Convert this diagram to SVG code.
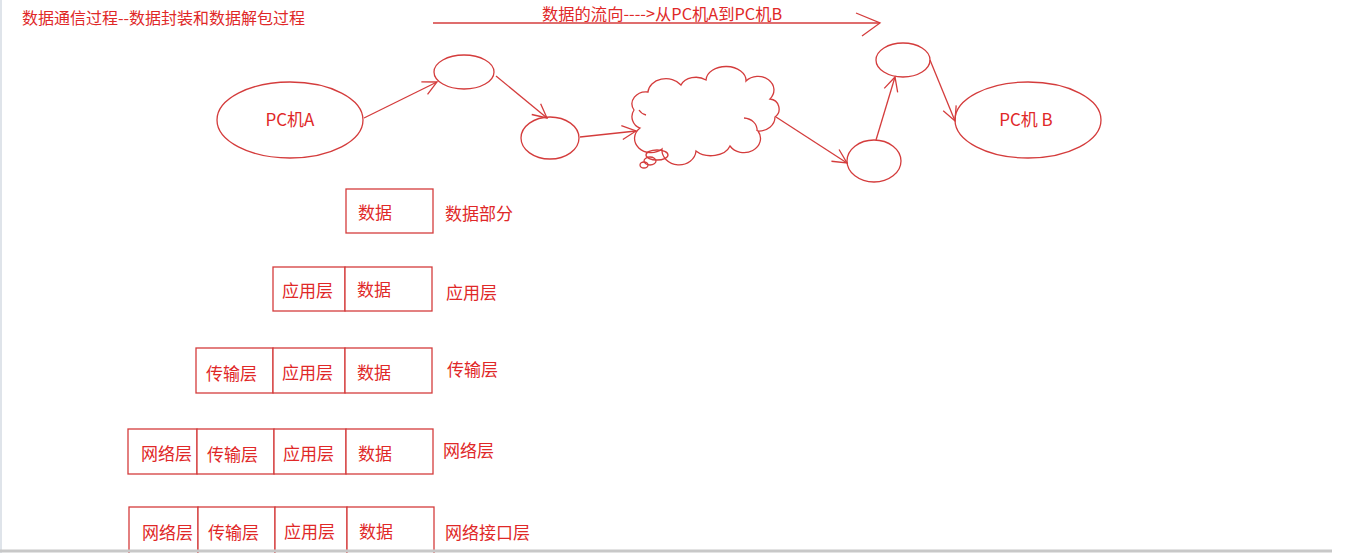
<svg xmlns="http://www.w3.org/2000/svg" width="1372" height="553" viewBox="0 0 1372 553">
<style>
.t{font-family:"Microsoft YaHei","Noto Sans CJK SC",sans-serif;fill:#e02828;}
.m{font-size:17px;}
.s{fill:none;stroke:#d43c3c;stroke-width:1.3;}
.b{fill:#fff;stroke:#d43c3c;stroke-width:1.3;}
</style>
<defs>
<marker id="ah" markerUnits="userSpaceOnUse" markerWidth="22" markerHeight="22" refX="15" refY="8" orient="auto">
<path d="M1,1 L15,8 L1,15" fill="none" stroke="#d43c3c" stroke-width="1.3"/>
</marker>
</defs>
<rect x="0" y="0" width="1372" height="553" fill="#fff"/>
<line x1="1" y1="0" x2="1" y2="553" stroke="#dfe4ea" stroke-width="2"/>

<text class="t" x="22" y="24" font-size="16">数据通信过程--数据封装和数据解包过程</text>

<g id="flow">
<line class="s" x1="433" y1="23" x2="880" y2="23"/>
<polyline class="s" points="856,13 880,23 862,36"/>
<text class="t" x="542" y="20" font-size="16.3">数据的流向----&gt;从PC机A到PC机B</text>
</g>

<g id="pcA">
<ellipse class="s" cx="290" cy="120" rx="73" ry="38"/>
<text class="t" x="290" y="126" font-size="17" text-anchor="middle">PC机A</text>
</g>
<g id="r1"><ellipse class="s" cx="464" cy="72" rx="30" ry="17"/></g>
<g id="r2"><ellipse class="s" cx="550" cy="138" rx="29" ry="21"/></g>
<g id="cloud">
<path class="s" d="M640,128 A12,12 0 0 1 634,110 A14,12 0 0 1 648,92 A18,14 0 0 1 681,85 A16,12 0 0 1 706,80 A20,14 0 0 1 746,81 A14,12 0 0 1 770,99 A10,10 0 0 1 775,117 A16,14 0 0 1 758,131 A14,12 0 0 1 730,146 A20,14 0 0 1 696,151 A16,14 0 0 1 662,149 A14,12 0 0 1 640,128 Z"/>
<path class="s" d="M744,118 A14,12 0 0 1 757,131"/>
<path class="s" d="M639,110 A12,10 0 0 0 646,115"/>
<ellipse class="s" cx="657" cy="155" rx="11" ry="5"/>
<ellipse class="s" cx="650" cy="161" rx="6" ry="4"/>
<ellipse class="s" cx="644" cy="165" rx="4" ry="3"/>
</g>
<g id="r3"><ellipse class="s" cx="874" cy="161" rx="27" ry="21"/></g>
<g id="r4"><ellipse class="s" cx="903" cy="60" rx="27" ry="17"/></g>
<g id="pcB">
<ellipse class="s" cx="1028" cy="120" rx="73" ry="38"/>
<text class="t" x="1026" y="126" font-size="17" text-anchor="middle">PC机 B</text>
</g>

<g id="connectors">
<line class="s" x1="364" y1="118" x2="437" y2="82" marker-end="url(#ah)"/>
<line class="s" x1="496" y1="76" x2="547" y2="118" marker-end="url(#ah)"/>
<line class="s" x1="580" y1="137" x2="636" y2="131" marker-end="url(#ah)"/>
<line class="s" x1="776" y1="117" x2="847" y2="163" marker-end="url(#ah)"/>
<line class="s" x1="876" y1="140" x2="895" y2="77" marker-end="url(#ah)"/>
<line class="s" x1="930" y1="60" x2="955" y2="121" marker-end="url(#ah)"/>
</g>

<g id="row1">
<rect class="b" x="346" y="189" width="87" height="44"/>
<text class="t m" x="358" y="219">数据</text>
<text class="t m" x="445" y="220">数据部分</text>
</g>
<g id="row2">
<rect class="b" x="273" y="267" width="72" height="44"/>
<rect class="b" x="345" y="267" width="87" height="44"/>
<text class="t m" x="282" y="297">应用层</text>
<text class="t m" x="357" y="296">数据</text>
<text class="t m" x="446" y="299">应用层</text>
</g>
<g id="row3">
<rect class="b" x="196" y="348" width="77" height="45"/>
<rect class="b" x="273" y="348" width="72" height="45"/>
<rect class="b" x="345" y="348" width="87" height="45"/>
<text class="t m" x="206" y="380">传输层</text>
<text class="t m" x="282" y="379">应用层</text>
<text class="t m" x="357" y="379">数据</text>
<text class="t m" x="447" y="376">传输层</text>
</g>
<g id="row4">
<rect class="b" x="128" y="429" width="69" height="45"/>
<rect class="b" x="197" y="429" width="77" height="45"/>
<rect class="b" x="274" y="429" width="72" height="45"/>
<rect class="b" x="346" y="429" width="87" height="45"/>
<text class="t m" x="141" y="460">网络层</text>
<text class="t m" x="207" y="461">传输层</text>
<text class="t m" x="283" y="460">应用层</text>
<text class="t m" x="358" y="460">数据</text>
<text class="t m" x="443" y="457">网络层</text>
</g>
<g id="row5">
<rect class="b" x="129" y="507" width="69" height="50"/>
<rect class="b" x="198" y="507" width="77" height="50"/>
<rect class="b" x="275" y="507" width="72" height="50"/>
<rect class="b" x="347" y="507" width="87" height="50"/>
<text class="t m" x="142" y="539">网络层</text>
<text class="t m" x="208" y="539">传输层</text>
<text class="t m" x="284" y="538">应用层</text>
<text class="t m" x="359" y="538">数据</text>
<text class="t m" x="445" y="539">网络接口层</text>
</g>
<line x1="0" y1="551" x2="1332" y2="551" stroke="#c8c8c8" stroke-width="3"/>
</svg>
